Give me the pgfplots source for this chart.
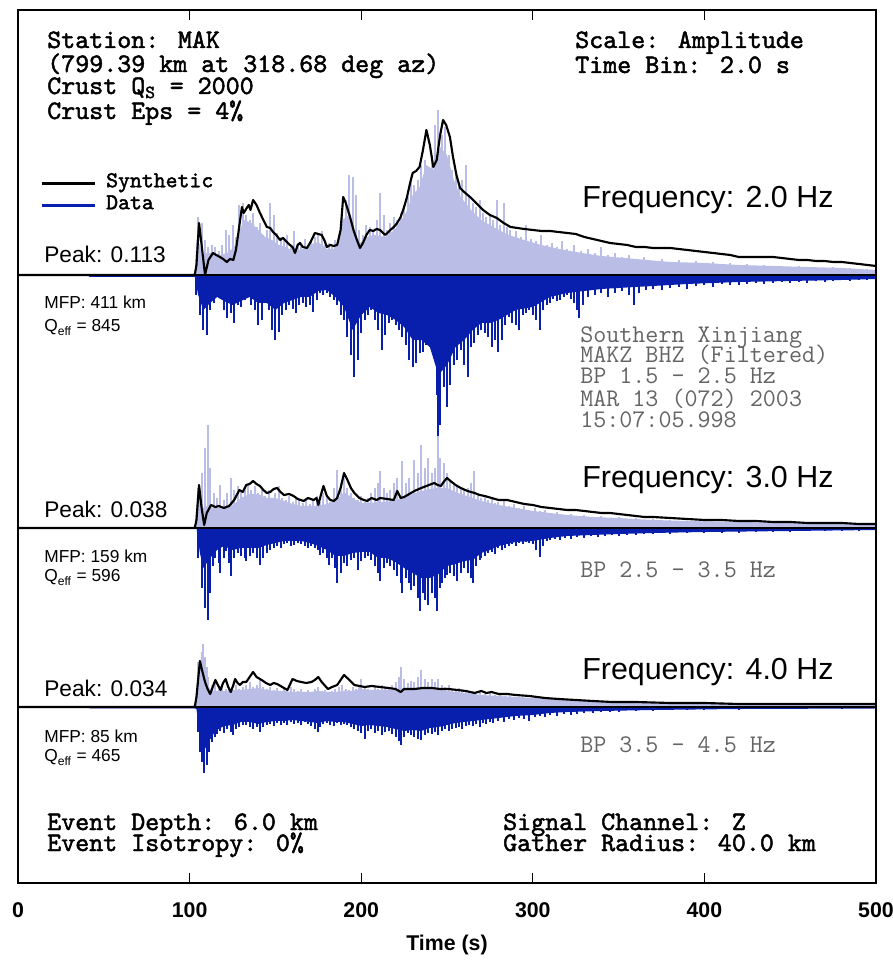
\documentclass[border=0pt]{standalone}
\usepackage{fontspec}
\setmainfont{Liberation Sans}
\newfontfamily\courbold{lmmono10-regular.otf}[FakeBold=1.8]
\usepackage{pgfplots}
\pgfplotsset{compat=1.18}

\definecolor{lightfill}{RGB}{186,190,230}
\definecolor{datablue}{RGB}{8,30,172}
\definecolor{labelgrey}{RGB}{100,100,100}

\newcommand{\monob}[1]{\courbold\fontsize{#1}{#1}\selectfont}
\newcommand{\mono}[1]{\ttfamily\fontsize{#1}{#1}\selectfont}
\newcommand{\sans}[1]{\fontsize{#1}{#1}\selectfont}

% every panel shares the frame: y is measured in pixels from the panel baseline
\pgfplotsset{
  panel/.style={scale only axis, width=643.5pt, height=654.75pt,
    xmin=0, xmax=500, hide axis, clip=true},
  comb/.style={ycomb, line width=1.5pt},
  body/.style={draw=none},
  synth/.style={black, line width=1.6pt, line join=round},
  baseline/.style={black, line width=1.2pt},
}

\begin{document}
\begin{tikzpicture}

% ---------------- 2.0 Hz ----------------
\begin{axis}[panel, ymin=-608, ymax=265]
\addplot[body, fill=lightfill] table[x=t, y=a, row sep=\\] {
t a\\ 103 0\\ 104 35\\ 106 30\\ 108 20\\ 110 22\\ 114 22\\ 118 20\\ 122 22\\ 126 28\\ 129 45\\ 132 55\\ 136 52\\ 140 45\\ 144 38\\ 148 35\\ 152 30\\ 156 28\\ 160 24\\ 165 25\\ 170 30\\ 175 33\\ 180 26\\ 185 26\\ 189 55\\ 193 60\\ 198 30\\ 203 38\\ 208 40\\ 214 38\\ 220 46\\ 226 62\\ 230 80\\ 234 88\\ 238 110\\ 242 105\\ 246 128\\ 250 120\\ 254 95\\ 258 78\\ 264 65\\ 270 55\\ 278 47\\ 286 40\\ 295 35\\ 305 30\\ 315 26\\ 325 23\\ 340 19\\ 360 16\\ 380 13\\ 400 12\\ 420 10\\ 440 9\\ 460 8\\ 480 7\\ 500 5\\
} \closedcycle;
\addplot[comb, draw=lightfill] table[x=t, y=a, row sep=\\] {
t a\\ 105 58\\ 107 52\\ 109 35\\ 111 28\\ 113 30\\ 115 28\\ 117 24\\ 119 30\\ 121 45\\ 123 40\\ 125 50\\ 127 38\\ 129 70\\ 131 72\\ 133 60\\ 135 55\\ 137 62\\ 139 48\\ 141 52\\ 143 40\\ 145 45\\ 147 72\\ 149 60\\ 151 42\\ 153 38\\ 155 35\\ 157 40\\ 159 30\\ 161 44\\ 163 32\\ 165 30\\ 167 36\\ 169 28\\ 171 35\\ 173 38\\ 175 42\\ 177 44\\ 179 30\\ 181 32\\ 183 28\\ 185 35\\ 187 40\\ 189 65\\ 191 75\\ 193 100\\ 195 98\\ 197 80\\ 199 45\\ 201 40\\ 203 50\\ 205 48\\ 207 45\\ 209 55\\ 211 82\\ 213 60\\ 215 45\\ 217 52\\ 219 58\\ 221 55\\ 223 62\\ 225 70\\ 227 78\\ 229 95\\ 231 90\\ 233 95\\ 235 110\\ 237 115\\ 239 100\\ 241 120\\ 243 150\\ 245 165\\ 247 140\\ 249 148\\ 251 120\\ 253 105\\ 255 100\\ 257 92\\ 259 95\\ 261 110\\ 263 80\\ 265 72\\ 267 68\\ 269 75\\ 271 62\\ 273 58\\ 275 60\\ 277 55\\ 279 75\\ 281 50\\ 283 72\\ 285 48\\ 287 45\\ 290 44\\ 293 38\\ 296 50\\ 299 36\\ 302 34\\ 305 40\\ 308 30\\ 311 32\\ 314 28\\ 317 34\\ 320 26\\ 324 30\\ 328 24\\ 332 26\\ 336 22\\ 340 28\\ 344 20\\ 348 22\\ 352 18\\ 356 20\\ 360 16\\ 365 18\\ 370 14\\ 375 16\\ 380 13\\ 385 15\\ 390 12\\ 395 14\\ 400 11\\ 405 13\\ 410 10\\ 415 12\\ 420 9\\ 425 11\\ 430 9\\ 435 10\\ 440 8\\ 445 9\\ 450 8\\ 455 9\\ 460 7\\ 465 8\\ 470 7\\ 475 8\\ 480 6\\ 485 7\\ 490 6\\ 495 6\\ 500 5\\
};
\addplot[body, fill=datablue] table[x=t, y expr=-\thisrow{a}, row sep=\\] {
t a\\ 40 0\\ 42 2\\ 103 2\\ 105 20\\ 108 35\\ 112 28\\ 116 22\\ 120 26\\ 125 30\\ 130 26\\ 135 22\\ 140 28\\ 145 28\\ 150 35\\ 155 28\\ 160 25\\ 165 22\\ 170 22\\ 175 16\\ 180 15\\ 185 22\\ 190 32\\ 195 55\\ 200 40\\ 205 32\\ 210 38\\ 215 40\\ 220 45\\ 225 52\\ 230 65\\ 235 65\\ 240 72\\ 245 100\\ 250 90\\ 255 72\\ 260 65\\ 265 55\\ 270 48\\ 275 48\\ 280 45\\ 290 35\\ 300 32\\ 310 22\\ 320 18\\ 330 16\\ 340 14\\ 350 13\\ 370 11\\ 390 9\\ 420 7\\ 450 6\\ 480 5\\ 500 4\\
} \closedcycle;
\addplot[comb, draw=datablue] table[x=t, y expr=-\thisrow{a}, row sep=\\] {
t a\\ 104 20\\ 106 40\\ 108 55\\ 110 60\\ 112 35\\ 114 28\\ 116 22\\ 118 20\\ 120 35\\ 122 43\\ 124 38\\ 126 48\\ 128 30\\ 130 32\\ 132 25\\ 134 20\\ 136 30\\ 138 35\\ 140 50\\ 142 45\\ 144 28\\ 146 35\\ 148 55\\ 150 65\\ 152 57\\ 154 40\\ 156 35\\ 158 30\\ 160 34\\ 162 38\\ 164 30\\ 166 28\\ 168 32\\ 170 30\\ 172 37\\ 174 25\\ 176 18\\ 178 20\\ 180 18\\ 182 22\\ 184 25\\ 186 30\\ 188 40\\ 190 45\\ 192 62\\ 194 80\\ 196 102\\ 198 85\\ 200 58\\ 202 45\\ 204 40\\ 206 35\\ 208 45\\ 210 55\\ 212 75\\ 214 60\\ 216 48\\ 218 45\\ 220 50\\ 222 55\\ 224 62\\ 226 70\\ 228 85\\ 230 92\\ 232 88\\ 234 78\\ 236 77\\ 238 70\\ 240 72\\ 242 80\\ 244 120\\ 245 165\\ 246 150\\ 248 112\\ 250 132\\ 252 110\\ 254 90\\ 256 85\\ 258 75\\ 260 90\\ 262 102\\ 264 72\\ 266 68\\ 268 60\\ 270 55\\ 272 58\\ 274 62\\ 276 72\\ 278 65\\ 280 77\\ 282 65\\ 284 50\\ 286 42\\ 288 48\\ 290 50\\ 292 55\\ 294 40\\ 296 38\\ 298 35\\ 300 40\\ 302 45\\ 304 55\\ 306 35\\ 308 30\\ 310 28\\ 312 24\\ 314 26\\ 316 25\\ 318 22\\ 320 20\\ 322 24\\ 324 28\\ 326 35\\ 327 43\\ 329 30\\ 332 22\\ 336 20\\ 340 18\\ 344 22\\ 348 18\\ 352 16\\ 356 20\\ 359 30\\ 362 18\\ 366 15\\ 370 14\\ 375 15\\ 380 13\\ 385 12\\ 390 14\\ 395 11\\ 400 10\\ 405 12\\ 410 9\\ 415 10\\ 420 10\\ 425 9\\ 430 8\\ 435 9\\ 440 8\\ 445 7\\ 450 8\\ 455 7\\ 460 8\\ 465 6\\ 470 7\\ 475 6\\ 480 5\\ 485 6\\ 490 5\\ 495 5\\ 500 4\\
};
\addplot[baseline] coordinates {(0,0) (500,0)};
\addplot[synth] table[x=t, y=a, row sep=\\] {
t a\\ 0 0\\ 103 0\\ 104 10\\ 105.5 52\\ 107 30\\ 109 0\\ 111 15\\ 113.6 22\\ 115.5 20\\ 117.7 18\\ 119.5 16\\ 121.7 13\\ 123.5 16\\ 125.5 15\\ 127 25\\ 128.4 42\\ 130.5 68\\ 131.5 62\\ 133.3 67\\ 134.5 70\\ 135.5 65\\ 137 75\\ 139 70\\ 141 62\\ 143 55\\ 145 48\\ 147 47\\ 148.6 43\\ 150.5 40\\ 152.7 35\\ 154.5 37\\ 156.6 33\\ 158.5 30\\ 160 28\\ 161.4 22\\ 163 30\\ 164.3 32\\ 166 28\\ 168.4 27\\ 170.5 33\\ 173 42\\ 175 41\\ 177 40\\ 178.5 35\\ 180 28\\ 182 30\\ 184 29\\ 186 30\\ 188 45\\ 189.5 78\\ 191 72\\ 193.5 58\\ 195.5 45\\ 197.5 35\\ 199.3 27\\ 201 32\\ 203 40\\ 205 45\\ 207 44\\ 209 46\\ 211 45\\ 214 40\\ 217 45\\ 219 48\\ 221 52\\ 223 58\\ 225 68\\ 226.7 78\\ 228.5 92\\ 230 102\\ 232 104\\ 234 108\\ 236 125\\ 238 145\\ 240 130\\ 242 108\\ 244 115\\ 246 140\\ 247.7 155\\ 249.5 150\\ 251.7 138\\ 253.5 118\\ 255.5 100\\ 257.6 87\\ 260 83\\ 263.4 78\\ 267 72\\ 271 65\\ 275 60\\ 279 57\\ 283 52\\ 287 48\\ 291 47\\ 295 46\\ 300 45\\ 305 44\\ 310 44\\ 315 43\\ 320 42\\ 325 41\\ 330 38\\ 335 36\\ 340 34\\ 345 32\\ 350 31\\ 355 30\\ 360 28\\ 365 28\\ 370 27\\ 375 27\\ 380 27\\ 385 26\\ 390 25\\ 395 24\\ 400 23\\ 405 22\\ 410 21\\ 415 20\\ 420 18\\ 425 18\\ 430 18\\ 435 18\\ 440 18\\ 445 17\\ 450 16\\ 455 15\\ 460 15\\ 465 14\\ 470 14\\ 475 13\\ 480 13\\ 485 12\\ 490 11\\ 495 10\\ 500 9\\
};
\end{axis}

% ---------------- 3.0 Hz ----------------
\begin{axis}[panel, ymin=-355, ymax=518]
\addplot[body, fill=lightfill] table[x=t, y=a, row sep=\\] {
t a\\ 103 0\\ 104.5 35\\ 106 30\\ 108 20\\ 110 22\\ 114 20\\ 118 20\\ 122 22\\ 126 24\\ 130 30\\ 135 34\\ 140 34\\ 145 30\\ 150 30\\ 155 27\\ 160 24\\ 165 22\\ 170 22\\ 175 22\\ 180 24\\ 185 27\\ 190 36\\ 195 30\\ 200 25\\ 205 25\\ 210 26\\ 215 26\\ 220 28\\ 225 31\\ 230 34\\ 235 37\\ 240 39\\ 245 40\\ 250 40\\ 255 36\\ 260 33\\ 265 30\\ 270 27\\ 275 25\\ 280 23\\ 290 20\\ 300 17\\ 310 15\\ 320 13\\ 335 11\\ 350 10\\ 370 8\\ 390 7\\ 420 6\\ 450 5\\ 480 4\\ 500 3\\
} \closedcycle;
\addplot[comb, draw=lightfill] table[x=t, y=a, row sep=\\] {
t a\\ 105 40\\ 107 55\\ 109 80\\ 110.5 103\\ 112 60\\ 114 35\\ 116 30\\ 118 43\\ 120 28\\ 122 35\\ 124 50\\ 126 38\\ 128 42\\ 130 36\\ 132 40\\ 134 45\\ 136 38\\ 138 42\\ 140 35\\ 142 40\\ 144 32\\ 146 38\\ 148 30\\ 150 35\\ 152 42\\ 154 30\\ 156 28\\ 158 32\\ 160 26\\ 162 30\\ 164 28\\ 166 25\\ 168 30\\ 170 24\\ 172 28\\ 174 32\\ 176 26\\ 178 35\\ 180 30\\ 182 26\\ 184 40\\ 186 58\\ 188 45\\ 190 50\\ 192 40\\ 194 35\\ 196 30\\ 198 28\\ 200 32\\ 202 26\\ 204 30\\ 206 35\\ 208 40\\ 210 45\\ 211 57\\ 213 40\\ 215 35\\ 217 38\\ 219 45\\ 221 50\\ 224 67\\ 226 45\\ 228 50\\ 231 68\\ 233 55\\ 235 83\\ 237 60\\ 239 70\\ 241 55\\ 243 60\\ 245 92\\ 246 70\\ 248 65\\ 250 55\\ 252 48\\ 254 45\\ 256 42\\ 258 40\\ 260 38\\ 262 40\\ 264 45\\ 266 57\\ 268 35\\ 270 30\\ 272 32\\ 274 28\\ 276 30\\ 278 25\\ 280 26\\ 283 28\\ 286 22\\ 289 24\\ 292 20\\ 295 22\\ 298 18\\ 301 20\\ 304 17\\ 307 18\\ 310 15\\ 314 16\\ 318 13\\ 322 14\\ 326 12\\ 330 13\\ 335 11\\ 340 12\\ 345 10\\ 350 11\\ 355 9\\ 360 10\\ 365 8\\ 370 9\\ 375 8\\ 380 8\\ 390 7\\ 400 7\\ 410 6\\ 420 6\\ 430 5\\ 440 5\\ 450 5\\ 460 4\\ 470 4\\ 480 4\\ 490 3\\ 500 3\\
};
\addplot[body, fill=datablue] table[x=t, y expr=-\thisrow{a}, row sep=\\] {
t a\\ 104 0\\ 106 25\\ 108 40\\ 112 30\\ 116 22\\ 120 18\\ 125 22\\ 130 20\\ 135 20\\ 140 20\\ 145 17\\ 150 15\\ 155 13\\ 160 13\\ 165 13\\ 170 15\\ 175 18\\ 180 22\\ 185 28\\ 190 28\\ 195 25\\ 200 24\\ 205 24\\ 210 30\\ 215 30\\ 220 34\\ 225 40\\ 230 45\\ 235 50\\ 240 50\\ 245 46\\ 250 38\\ 255 36\\ 260 33\\ 265 32\\ 270 25\\ 275 22\\ 280 18\\ 290 14\\ 300 13\\ 310 10\\ 320 8\\ 335 7\\ 350 6\\ 370 5\\ 400 4\\ 450 3\\ 500 2\\
} \closedcycle;
\addplot[comb, draw=datablue] table[x=t, y expr=-\thisrow{a}, row sep=\\] {
t a\\ 105 30\\ 107 60\\ 109 80\\ 110.5 92\\ 112 65\\ 113.5 38\\ 115 30\\ 117 35\\ 118 45\\ 120 30\\ 121 23\\ 123 35\\ 124 48\\ 126 30\\ 128 25\\ 130 28\\ 132 30\\ 133 33\\ 135 28\\ 137 25\\ 139 30\\ 141 37\\ 143 30\\ 145 25\\ 147 22\\ 149 20\\ 151 18\\ 153 20\\ 155 16\\ 157 15\\ 159 18\\ 161 17\\ 163 15\\ 165 16\\ 167 18\\ 169 20\\ 171 18\\ 173 20\\ 175 22\\ 176 27\\ 178 25\\ 180 30\\ 181 37\\ 183 30\\ 185 40\\ 186 55\\ 188 45\\ 190 35\\ 192 38\\ 194 32\\ 196 30\\ 198 42\\ 200 33\\ 202 30\\ 204 28\\ 206 32\\ 208 38\\ 210 45\\ 211 53\\ 213 40\\ 215 35\\ 217 38\\ 219 42\\ 221 48\\ 223 55\\ 224 65\\ 226 50\\ 228 55\\ 229 62\\ 231 58\\ 233 70\\ 234 83\\ 236 65\\ 237 72\\ 239 77\\ 241 65\\ 243 70\\ 244 83\\ 246 60\\ 247 55\\ 249 50\\ 250 47\\ 252 45\\ 254 48\\ 256 53\\ 258 45\\ 260 40\\ 262 45\\ 264 50\\ 265 55\\ 267 38\\ 269 32\\ 270 30\\ 272 28\\ 274 25\\ 276 24\\ 278 26\\ 280 20\\ 282 22\\ 284 20\\ 286 18\\ 288 16\\ 290 18\\ 292 15\\ 294 16\\ 296 14\\ 298 15\\ 300 16\\ 302 22\\ 304 29\\ 306 18\\ 308 13\\ 310 12\\ 313 11\\ 316 12\\ 319 10\\ 322 11\\ 326 9\\ 330 10\\ 334 8\\ 338 9\\ 342 8\\ 346 7\\ 350 8\\ 355 7\\ 360 7\\ 365 6\\ 370 6\\ 380 6\\ 390 5\\ 400 5\\ 410 5\\ 420 5\\ 430 4\\ 440 4\\ 450 4\\ 460 3\\ 470 3\\ 480 3\\ 490 3\\ 500 3\\
};
\addplot[baseline] coordinates {(0,0) (500,0)};
\addplot[synth] table[x=t, y=a, row sep=\\] {
t a\\ 0 0\\ 103 0\\ 104 8\\ 105.5 43\\ 107 20\\ 108.5 3\\ 110 15\\ 112.5 23\\ 115 21\\ 117 22\\ 120 20\\ 123 22\\ 126 28\\ 129 38\\ 131 36\\ 133 43\\ 135 44\\ 137 47\\ 139 44\\ 141 42\\ 143 38\\ 145 35\\ 147 36\\ 149 39\\ 151 40\\ 153 36\\ 155 33\\ 158 34\\ 160.6 32\\ 163 29\\ 166.5 27\\ 169 30\\ 172.3 28\\ 174 30\\ 175 23\\ 176.5 33\\ 178 42\\ 180 32\\ 182 28\\ 184 27\\ 186 30\\ 188 40\\ 190 55\\ 192 48\\ 194 40\\ 196 35\\ 199 30\\ 201.5 28\\ 203.5 27\\ 206 30\\ 209 28\\ 211 30\\ 215 29\\ 219 28\\ 221 37\\ 223 30\\ 225 31\\ 228 34\\ 231 37\\ 235 40\\ 238 42\\ 241 44\\ 242.6 45\\ 244.5 43\\ 246.5 42\\ 248 46\\ 250 50\\ 252 47\\ 255 43\\ 258 40\\ 262 37\\ 266 35\\ 269 33\\ 272 32\\ 276 30\\ 280 28\\ 285 28\\ 290 26\\ 295 24\\ 300 23\\ 305 21\\ 310 20\\ 315 19\\ 320 18\\ 325 18\\ 330 17\\ 335 16\\ 340 15\\ 345 15\\ 350 14\\ 355 13\\ 360 12\\ 365 11\\ 370 11\\ 380 10\\ 390 9\\ 400 8\\ 410 8\\ 420 7\\ 430 7\\ 440 6\\ 450 6\\ 460 5\\ 470 5\\ 480 5\\ 490 4\\ 500 4\\
};
\end{axis}

% ---------------- 4.0 Hz ----------------
\begin{axis}[panel, ymin=-176, ymax=697]
\addplot[body, fill=lightfill] table[x=t, y=a, row sep=\\] {
t a\\ 103 0\\ 105 38\\ 107 42\\ 109 30\\ 111 20\\ 114 16\\ 118 16\\ 122 16\\ 126 17\\ 130 17\\ 135 18\\ 140 19\\ 145 17\\ 150 16\\ 155 16\\ 160 15\\ 165 15\\ 170 15\\ 175 16\\ 180 15\\ 185 15\\ 190 16\\ 195 16\\ 200 18\\ 205 17\\ 210 17\\ 215 17\\ 220 18\\ 225 19\\ 230 19\\ 235 19\\ 240 18\\ 245 17\\ 250 16\\ 255 15\\ 260 14\\ 265 13\\ 270 12\\ 280 11\\ 290 10\\ 300 9\\ 310 8\\ 320 7\\ 340 5\\ 360 4\\ 400 3\\ 450 3\\ 500 2\\
} \closedcycle;
\addplot[comb, draw=lightfill] table[x=t, y=a, row sep=\\] {
t a\\ 105 45\\ 107 55\\ 108 63\\ 109 50\\ 110 40\\ 111 30\\ 113 22\\ 115 25\\ 117 20\\ 119 22\\ 121 18\\ 123 20\\ 125 17\\ 127 22\\ 129 18\\ 131 20\\ 133 22\\ 135 25\\ 137 20\\ 139 22\\ 141 28\\ 143 20\\ 145 18\\ 147 20\\ 149 17\\ 151 19\\ 153 16\\ 155 18\\ 157 16\\ 159 20\\ 161 18\\ 163 16\\ 165 18\\ 167 15\\ 169 17\\ 171 15\\ 173 18\\ 175 20\\ 177 16\\ 179 17\\ 181 15\\ 183 16\\ 185 18\\ 187 20\\ 189 22\\ 191 18\\ 193 17\\ 195 20\\ 197 18\\ 199 22\\ 200 28\\ 202 20\\ 204 18\\ 206 17\\ 208 20\\ 210 18\\ 212 22\\ 214 20\\ 216 18\\ 218 22\\ 220 25\\ 222 30\\ 223 40\\ 225 28\\ 227 24\\ 229 26\\ 231 25\\ 233 30\\ 235 37\\ 237 28\\ 239 25\\ 241 28\\ 243 25\\ 245 28\\ 247 22\\ 249 20\\ 251 22\\ 253 18\\ 255 17\\ 257 19\\ 259 16\\ 261 17\\ 263 15\\ 265 16\\ 267 14\\ 269 15\\ 272 13\\ 275 14\\ 278 12\\ 281 12\\ 284 11\\ 287 11\\ 290 10\\ 294 10\\ 298 9\\ 302 9\\ 306 8\\ 310 8\\ 315 7\\ 320 7\\ 325 6\\ 330 6\\ 340 5\\ 350 5\\ 360 4\\ 380 4\\ 400 3\\ 450 3\\ 500 2\\
};
\addplot[body, fill=datablue] table[x=t, y expr=-\thisrow{a}, row sep=\\] {
t a\\ 40 0\\ 42 1.5\\ 103 1.5\\ 104 2\\ 106 30\\ 108 45\\ 111 35\\ 115 24\\ 120 19\\ 125 18\\ 130 15\\ 135 15\\ 140 17\\ 145 15\\ 150 14\\ 155 14\\ 160 13\\ 165 14\\ 170 15\\ 175 16\\ 180 14\\ 185 15\\ 190 15\\ 195 17\\ 200 19\\ 205 18\\ 210 19\\ 215 20\\ 220 22\\ 225 24\\ 230 23\\ 235 24\\ 240 21\\ 245 20\\ 250 18\\ 255 16\\ 260 15\\ 265 14\\ 270 13\\ 280 11\\ 290 9\\ 300 8\\ 310 6\\ 320 5\\ 340 4\\ 370 3\\ 420 2\\ 500 1.5\\
} \closedcycle;
\addplot[comb, draw=datablue] table[x=t, y expr=-\thisrow{a}, row sep=\\] {
t a\\ 105 25\\ 106 45\\ 107 55\\ 108.5 66\\ 110 58\\ 111.5 45\\ 113 35\\ 115 30\\ 116 27\\ 118 24\\ 120 26\\ 122 22\\ 124 25\\ 125.5 28\\ 127 22\\ 129 20\\ 131 18\\ 133 18\\ 135 20\\ 137 22\\ 139 20\\ 141 25\\ 143 20\\ 145 18\\ 147 17\\ 149 19\\ 151 16\\ 153 18\\ 155 16\\ 157 18\\ 159 15\\ 161 17\\ 163 16\\ 165 18\\ 167 15\\ 169 17\\ 171 19\\ 173 22\\ 174.6 25\\ 176 20\\ 178 17\\ 180 16\\ 182 18\\ 184 19\\ 186 16\\ 188 18\\ 190 17\\ 192 18\\ 194 20\\ 196 22\\ 198 24\\ 200 26\\ 202 32\\ 204 24\\ 206 22\\ 208 26\\ 210 24\\ 212 28\\ 214 25\\ 216 24\\ 218 27\\ 220 30\\ 222 34\\ 223 38\\ 225 30\\ 227 26\\ 229 28\\ 231 30\\ 233 32\\ 235 33\\ 237 28\\ 239 26\\ 241 27\\ 243 25\\ 245 28\\ 247 24\\ 249 22\\ 251 24\\ 253 22\\ 255 21\\ 257 20\\ 259 22\\ 261 19\\ 263 18\\ 265 19\\ 267 17\\ 269 20\\ 271 16\\ 273 17\\ 275 15\\ 277 16\\ 280 14\\ 283 15\\ 286 12\\ 289 13\\ 292 11\\ 295 12\\ 298 14\\ 301 10\\ 304 9\\ 307 10\\ 310 8\\ 314 9\\ 318 7\\ 322 8\\ 326 7\\ 330 6\\ 335 6\\ 340 5\\ 345 5\\ 350 5\\ 360 4\\ 370 4\\ 380 3\\ 390 3\\ 400 3\\ 420 3\\ 440 2\\ 460 2\\ 480 2\\ 500 2\\
};
\addplot[baseline] coordinates {(0,0) (500,0)};
\addplot[synth] table[x=t, y=a, row sep=\\] {
t a\\ 0 0\\ 103 0\\ 104 10\\ 106 46\\ 107.5 35\\ 109 25\\ 110.5 18\\ 112 13\\ 113.5 20\\ 115 27\\ 116.5 22\\ 118 17\\ 119.5 24\\ 121 28\\ 122.5 20\\ 124 15\\ 125.5 22\\ 126.5 28\\ 128 24\\ 129.4 22\\ 131 25\\ 133 25\\ 135 30\\ 137 35\\ 139 30\\ 142 27\\ 144.5 24\\ 147 22\\ 149 24\\ 151 23\\ 154 20\\ 157 17\\ 160 28\\ 162.5 26\\ 165 25\\ 168 24\\ 171 25\\ 173 27\\ 175 30\\ 177 25\\ 180.6 18\\ 183 20\\ 186 22\\ 188 27\\ 190 32\\ 192.5 28\\ 196 22\\ 199 21\\ 202 20\\ 206 21\\ 211 20\\ 216 19\\ 220 18\\ 223 15\\ 225 18\\ 231 18\\ 236 19\\ 241 19\\ 246 18\\ 251 18\\ 256 17\\ 261 16\\ 266 14\\ 270 16\\ 273 14\\ 276 15\\ 280 13\\ 285 13\\ 290 12\\ 298 11\\ 307 9\\ 315 8\\ 325 7\\ 335 6\\ 346 5\\ 360 5\\ 380 4\\ 400 4\\ 420 3\\ 440 3\\ 460 3\\ 480 3\\ 500 3\\
};
\end{axis}

% ---------------- frame, ticks and annotations ----------------
\begin{axis}[name=frame, scale only axis, width=643.5pt, height=654.75pt,
  xmin=0, xmax=500, ymin=0, ymax=873, clip=false,
  axis line style={line width=1pt},
  xtick={0,100,...,500}, ytick=\empty,
  tick align=inside, xtick pos=both, major tick length=7.5pt,
  tick style={black, line width=0.8pt},
  /pgf/number format/assume math mode=true,
  xticklabel style={font=\bfseries\sans{16}, inner sep=0pt, text height=11.5pt, yshift=-14pt},
  xlabel={Time (s)},
  xlabel style={font=\bfseries\sans{16}, at={(axis description cs:0.5,0)}, anchor=center, yshift=-46.5pt},
  legend style={at={(axis cs:13,708)}, anchor=north west, draw=none, fill=none,
    inner sep=0pt, row sep=4.5pt, font=\monob{17},
    nodes={inner sep=1pt, text height=8pt, text depth=2pt},
    /tikz/every odd column/.append style={column sep=6pt}},
  legend cell align=left,
  legend image code/.code={\draw[#1] (0pt,0pt) -- (40pt,0pt);},
]
\addlegendimage{black, line width=2.2pt}
\addlegendentry{Synthetic}
\addlegendimage{datablue, line width=2.2pt}
\addlegendentry{Data}

\node[anchor=base west, inner sep=0pt, font=\monob{20}] at (axis cs:16.9,835) {Station: MAK};
\node[anchor=base west, inner sep=0pt, font=\monob{20}] at (axis cs:16.9,811) {(799.39 km at 318.68 deg az)};
\node[anchor=base west, inner sep=0pt, font=\monob{20}] at (axis cs:16.9,789) {Crust Q\textsubscript{S} = 2000};
\node[anchor=base west, inner sep=0pt, font=\monob{20}] at (axis cs:16.9,764) {Crust Eps = 4\%};

\node[anchor=base west, inner sep=0pt, font=\monob{20}] at (axis cs:324.6,835) {Scale: Amplitude};
\node[anchor=base west, inner sep=0pt, font=\monob{20}] at (axis cs:324.6,810) {Time Bin: 2.0 s};

\node[anchor=base west, inner sep=0pt, font=\sans{22.8}] at (axis cs:328.7,675) {Frequency: 2.0 Hz};
\node[anchor=base west, inner sep=0pt, font=\sans{22.8}] at (axis cs:328.7,395) {Frequency: 3.0 Hz};
\node[anchor=base west, inner sep=0pt, font=\sans{22.8}] at (axis cs:328.7,203) {Frequency: 4.0 Hz};

\node[anchor=base west, inner sep=0pt, font=\sans{17}] at (axis cs:15.2,620) {Peak: 0.113};
\node[anchor=base west, inner sep=0pt, font=\sans{17}] at (axis cs:15.2,365) {Peak: 0.038};
\node[anchor=base west, inner sep=0pt, font=\sans{17}] at (axis cs:15.2,186) {Peak: 0.034};

\node[anchor=base west, inner sep=0pt, font=\sans{13}] at (axis cs:15.2,574) {MFP: 411 km};
\node[anchor=base west, inner sep=0pt, font=\sans{13}] at (axis cs:15.2,551) {Q\textsubscript{eff} = 845};
\node[anchor=base west, inner sep=0pt, font=\sans{13}] at (axis cs:15.2,320) {MFP: 159 km};
\node[anchor=base west, inner sep=0pt, font=\sans{13}] at (axis cs:15.2,301) {Q\textsubscript{eff} = 596};
\node[anchor=base west, inner sep=0pt, font=\sans{13}] at (axis cs:15.2,140) {MFP: 85 km};
\node[anchor=base west, inner sep=0pt, font=\sans{13}] at (axis cs:15.2,121) {Q\textsubscript{eff} = 465};

\node[anchor=base west, inner sep=0pt, font=\mono{19}, text=labelgrey] at (axis cs:327.5,540) {Southern Xinjiang};
\node[anchor=base west, inner sep=0pt, font=\mono{19}, text=labelgrey] at (axis cs:327.5,520) {MAKZ BHZ (Filtered)};
\node[anchor=base west, inner sep=0pt, font=\mono{19}, text=labelgrey] at (axis cs:327.5,499) {BP 1.5 - 2.5 Hz};
\node[anchor=base west, inner sep=0pt, font=\mono{19}, text=labelgrey] at (axis cs:327.5,476) {MAR 13 (072) 2003};
\node[anchor=base west, inner sep=0pt, font=\mono{19}, text=labelgrey] at (axis cs:327.5,455) {15:07:05.998};
\node[anchor=base west, inner sep=0pt, font=\mono{19}, text=labelgrey] at (axis cs:327.5,305) {BP 2.5 - 3.5 Hz};
\node[anchor=base west, inner sep=0pt, font=\mono{19}, text=labelgrey] at (axis cs:327.5,130) {BP 3.5 - 4.5 Hz};

\node[anchor=base west, inner sep=0pt, font=\monob{20}] at (axis cs:16.9,53) {Event Depth: 6.0 km};
\node[anchor=base west, inner sep=0pt, font=\monob{20}] at (axis cs:16.9,32) {Event Isotropy: 0\%};
\node[anchor=base west, inner sep=0pt, font=\monob{20}] at (axis cs:282.6,53) {Signal Channel: Z};
\node[anchor=base west, inner sep=0pt, font=\monob{20}] at (axis cs:282.6,32) {Gather Radius: 40.0 km};
\end{axis}

\pgfresetboundingbox
\path[use as bounding box] ([xshift=-13.5pt, yshift=-59.25pt]frame.south west)
  rectangle ([xshift=12.75pt, yshift=7.5pt]frame.north east);
\end{tikzpicture}
\end{document}
